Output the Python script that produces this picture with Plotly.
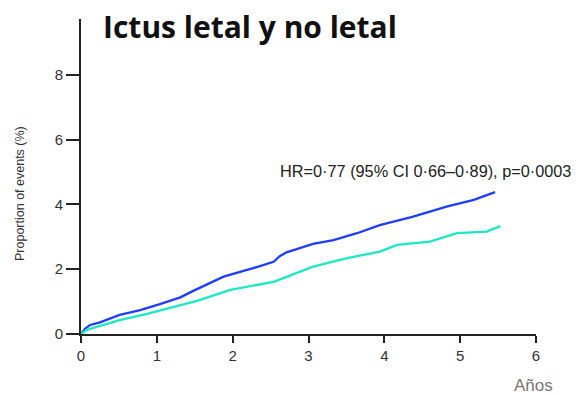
import plotly.graph_objects as go

# Years of follow-up and cumulative proportion of events (%)
years_a = [0, 0.05, 0.12, 0.25, 0.51, 0.78, 1.04, 1.31, 1.48, 1.88, 2.27, 2.54, 2.62, 2.71,
           3.06, 3.33, 3.64, 3.94, 4.38, 4.82, 5.18, 5.46]
events_a = [0, 0.15, 0.28, 0.36, 0.59, 0.74, 0.92, 1.13, 1.33, 1.77, 2.03, 2.23, 2.40, 2.52,
            2.78, 2.90, 3.11, 3.36, 3.62, 3.93, 4.14, 4.38]

years_b = [0, 0.07, 0.25, 0.51, 0.87, 1.13, 1.53, 1.97, 2.54, 3.06, 3.51, 3.94, 4.17,
           4.60, 4.96, 5.35, 5.53]
events_b = [0, 0.12, 0.25, 0.43, 0.62, 0.78, 1.02, 1.36, 1.61, 2.08, 2.34, 2.54, 2.75,
            2.85, 3.11, 3.16, 3.33]

x_ticks = [0, 1, 2, 3, 4, 5, 6]
y_ticks = [0, 2, 4, 6, 8]

title_text = "Ictus letal y no letal"
hr_text = "HR=0·77 (95% CI 0·66–0·89), p=0·0003"
x_title = "Años"
y_title = "Proportion of events (%)"

sans = "Liberation Sans, Arial, sans-serif"

fig = go.Figure()
fig.add_trace(go.Scatter(x=years_a, y=events_a, mode="lines",
                         line=dict(color="#1f3dff", width=2.3), showlegend=False))
fig.add_trace(go.Scatter(x=years_b, y=events_b, mode="lines",
                         line=dict(color="#1de8c4", width=2.3), showlegend=False))

fig.update_layout(
    width=578, height=395,
    margin=dict(l=81, r=42, t=19, b=61),
    paper_bgcolor="white", plot_bgcolor="white",
    xaxis=dict(range=[0, 6], tickvals=x_ticks, showgrid=False, zeroline=False,
               showline=True, linecolor="#222", linewidth=2,
               ticks="outside", ticklen=7, tickwidth=2, tickcolor="#222",
               tickfont=dict(family=sans, size=15, color="#333")),
    yaxis=dict(range=[0, 9.72], tickvals=y_ticks, showgrid=False, zeroline=False,
               showline=True, linecolor="#222", linewidth=2,
               ticks="outside", ticklen=13, tickwidth=2, tickcolor="#222",
               tickfont=dict(family=sans, size=15, color="#333")),
)

fig.add_annotation(text="<b>" + title_text + "</b>", xref="paper", yref="paper",
                   x=(101 - 81) / 455, y=1 + (19 - 26) / 315, xanchor="left", yanchor="middle",
                   showarrow=False, font=dict(family="Open Sans, Lato, sans-serif", size=30, color="#111"))
fig.add_annotation(text=hr_text, xref="paper", yref="paper",
                   x=(278 - 81) / 455, y=(334 - 171) / 315, xanchor="left", yanchor="middle",
                   showarrow=False, font=dict(family=sans, size=16.3, color="#222"))
fig.add_annotation(text=x_title, xref="paper", yref="paper",
                   x=(533 - 81) / 455, y=-(385 - 334) / 315, xanchor="center", yanchor="middle",
                   showarrow=False, font=dict(family=sans, size=17, color="#777"))
fig.add_annotation(text=y_title, xref="paper", yref="paper",
                   x=(20 - 81) / 455, y=(334 - 194) / 315, xanchor="center", yanchor="middle",
                   textangle=-90, showarrow=False, font=dict(family=sans, size=12.5, color="#333"))

fig.write_html("out.html")
